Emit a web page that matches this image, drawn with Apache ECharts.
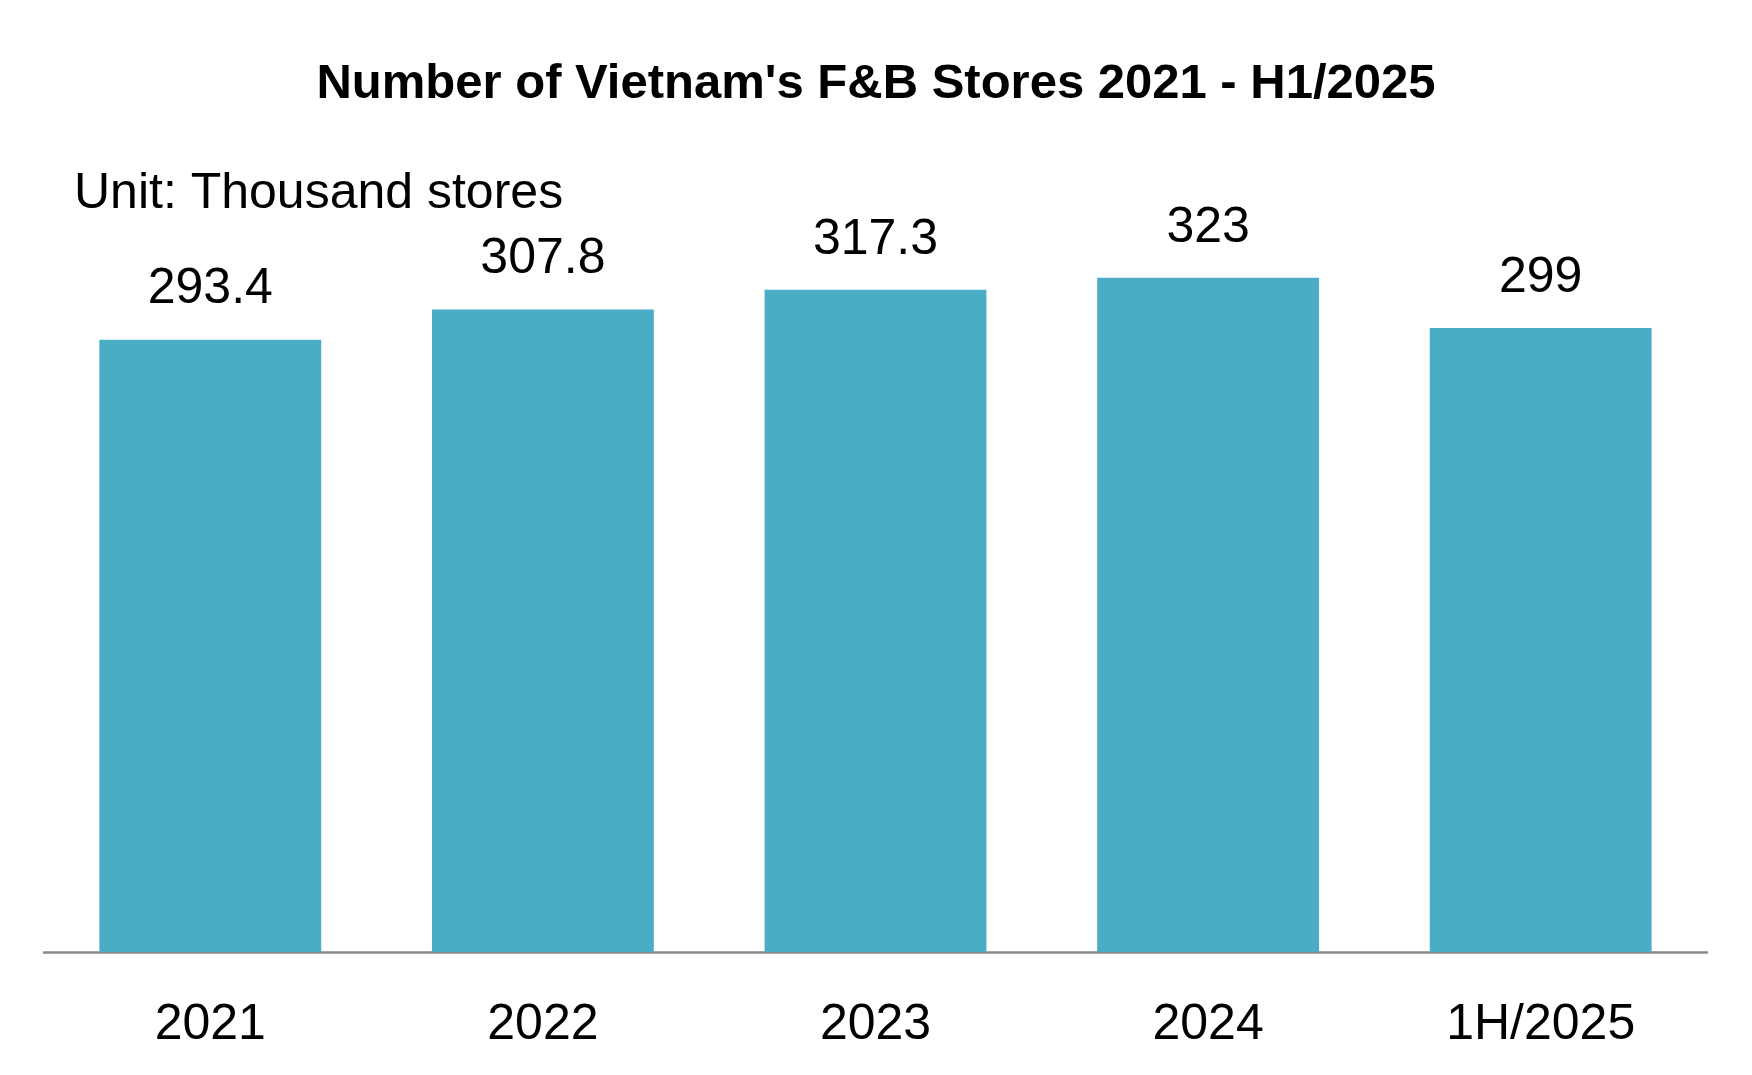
<!DOCTYPE html>
<html>
<head>
<meta charset="utf-8">
<script src="https://cdn.jsdelivr.net/npm/echarts@6/dist/echarts.min.js"></script>
<style>
html,body{margin:0;padding:0;background:#fff;}
#chart{width:1752px;height:1075px;}
</style>
</head>
<body>
<div id="chart"></div>
<script>
const categories = ['2021', '2022', '2023', '2024', '1H/2025'];
const storeCounts = [293.4, 307.8, 317.3, 323, 299];
const chartTitle = "Number of Vietnam's F&B Stores 2021 - H1/2025";
const unitText = 'Unit: Thousand stores';

const FONT = '"Liberation Sans", Arial, sans-serif';
const chart = echarts.init(document.getElementById('chart'), null, {renderer: 'canvas'});
chart.setOption({
  backgroundColor: '#ffffff',
  animation: false,
  title: [
    {
      text: chartTitle,
      left: 'center',
      top: 60,
      padding: 0,
      textStyle: {fontFamily: FONT, fontSize: 49, fontWeight: 'bold', color: '#000', lineHeight: 49}
    },
    {
      text: unitText,
      left: 74,
      top: 169,
      padding: 0,
      textStyle: {fontFamily: FONT, fontSize: 50, fontWeight: 'normal', color: '#000', lineHeight: 50}
    }
  ],
  grid: {left: 44, right: 45, top: 221.5, bottom: 123, containLabel: false},
  xAxis: {
    type: 'category',
    data: categories,
    axisLine: {show: true, lineStyle: {color: '#898989', width: 2.5}},
    axisTick: {show: false},
    axisLabel: {fontFamily: FONT, fontSize: 50, color: '#000', margin: 48, lineHeight: 50}
  },
  yAxis: {
    type: 'value',
    min: 0,
    max: 350,
    show: false,
    splitLine: {show: false}
  },
  series: [{
    type: 'bar',
    data: storeCounts,
    barCategoryGap: '33.3%',
    itemStyle: {color: '#4BACC6'},
    label: {
      show: true,
      position: 'top',
      distance: 25,
      fontFamily: FONT,
      fontSize: 50,
      lineHeight: 50,
      color: '#000'
    }
  }]
});
</script>
</body>
</html>
